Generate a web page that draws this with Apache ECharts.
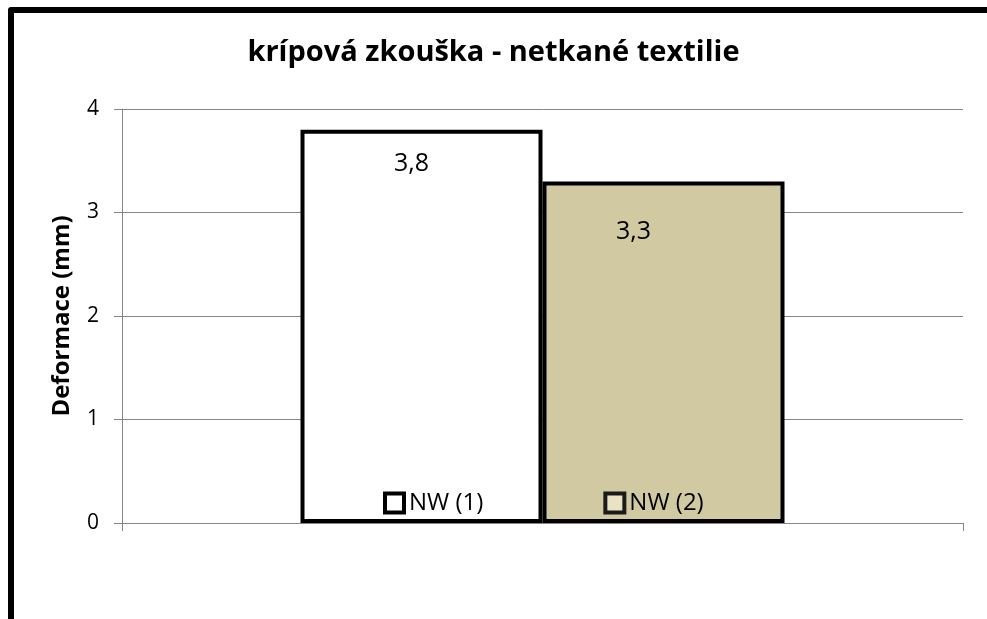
<!DOCTYPE html>
<html>
<head>
<meta charset="utf-8">
<script src="https://cdn.jsdelivr.net/npm/echarts@6/dist/echarts.min.js"></script>
<style>
  html, body { margin: 0; padding: 0; background: #fff; }
  #chart { width: 987px; height: 619px; }
</style>
</head>
<body>
<div id="chart"></div>
<script>
// Creep test results for two nonwoven samples
const categories = ['krípová zkouška'];
const seriesNames = ['NW (1)', 'NW (2)'];
const valuesNW1 = [3.8];
const valuesNW2 = [3.3];
const yTicks = [0, 1, 2, 3, 4];

const FONT = '"Open Sans", "Liberation Sans", sans-serif';

const fmt = v => String(v).replace('.', ',');

const chart = echarts.init(document.getElementById('chart'), null, { renderer: 'canvas' });

chart.setOption({
  animation: false,
  backgroundColor: '#ffffff',
  graphic: [{
    type: 'polyline',
    shape: { points: [[11, 900], [11, 10], [1200, 10]] },
    style: { fill: 'none', stroke: '#000', lineWidth: 6, lineJoin: 'round' },
    z: 100
  }],
  title: {
    text: 'krípová zkouška - netkané textilie',
    left: 'center',
    top: 33,
    textStyle: { fontFamily: FONT, fontWeight: 'bold', fontSize: 29, color: '#000' }
  },
  grid: { left: 122, right: 24, top: 109, bottom: 96, containLabel: false },
  legend: {
    data: [
      { name: seriesNames[0], itemStyle: { color: '#fff', borderColor: '#000', borderWidth: 4 } },
      { name: seriesNames[1], itemStyle: { color: '#E9E3C3', borderColor: '#1a1a1a', borderWidth: 4 } }
    ],
    left: 378,
    top: 486,
    itemWidth: 19,
    itemHeight: 19,
    itemGap: 120,
    icon: 'rect',
    textStyle: { fontFamily: FONT, fontSize: 24, color: '#000' },
    z: 10
  },
  xAxis: {
    type: 'category',
    data: categories,
    axisLine: { lineStyle: { color: '#868686', width: 1 } },
    axisTick: { show: true, length: 8, lineStyle: { color: '#868686' } },
    axisLabel: { show: false }
  },
  yAxis: {
    type: 'value',
    min: yTicks[0],
    max: yTicks[yTicks.length - 1],
    interval: 1,
    name: 'Deformace (mm)',
    nameLocation: 'middle',
    nameGap: 48,
    nameTextStyle: { fontFamily: FONT, fontWeight: 'bold', fontSize: 24, color: '#000' },
    axisLine: { show: true, lineStyle: { color: '#868686', width: 1 } },
    axisTick: { show: true, length: 8, lineStyle: { color: '#868686' } },
    axisLabel: { margin: 23, fontFamily: FONT, fontSize: 21, color: '#000' },
    splitLine: { show: true, lineStyle: { color: '#868686', width: 1 } }
  },
  series: [
    {
      name: seriesNames[0],
      type: 'bar',
      data: valuesNW1,
      barWidth: 242,
      barGap: '0%',
      itemStyle: { color: '#ffffff', borderColor: '#000', borderWidth: 4 },
      label: {
        show: true,
        position: [111, 34],
        align: 'center',
        verticalAlign: 'middle',
        formatter: p => fmt(p.value),
        fontFamily: FONT,
        fontSize: 25,
        color: '#000'
      }
    },
    {
      name: seriesNames[1],
      type: 'bar',
      data: valuesNW2,
      barWidth: 242,
      barGap: '0%',
      itemStyle: { color: '#D0C9A2', borderColor: '#000', borderWidth: 4 },
      label: {
        show: true,
        position: [91, 50],
        align: 'center',
        verticalAlign: 'middle',
        formatter: p => fmt(p.value),
        fontFamily: FONT,
        fontSize: 25,
        color: '#000'
      }
    }
  ]
});
</script>
</body>
</html>
